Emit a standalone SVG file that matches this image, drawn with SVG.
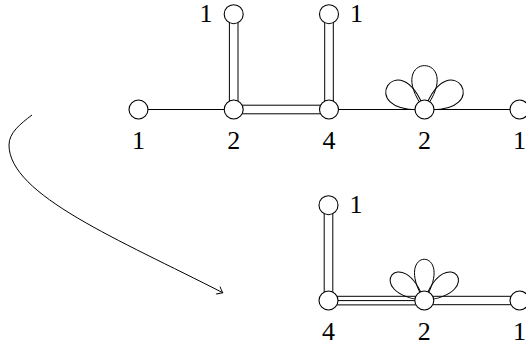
<svg xmlns="http://www.w3.org/2000/svg" xmlns:xlink="http://www.w3.org/1999/xlink" width="526" height="347" viewBox="0 0 526 347">
<style>
.e{stroke:#000;stroke-width:1;fill:none}
.n{fill:#fff;stroke:#000;stroke-width:1.1}
.p{fill:none;stroke:#000;stroke-width:1}
text{font-family:'Liberation Serif','Times New Roman',serif;font-size:26px;text-anchor:middle;fill:#000}
</style>
<defs>
<path id="petA" d="M0,0 C44,-58.5 -44,-58.5 0,0"/>
<path id="petB" d="M0,0 C34,-55 -34,-55 0,0"/>
<marker id="arr" markerUnits="userSpaceOnUse" markerWidth="12" markerHeight="12" refX="0" refY="0" viewBox="-8 -6 10 12" orient="auto">
<path d="M-5,-4 Q-1.5,-1 0,0 Q-1.5,1 -5,4" fill="none" stroke="#000" stroke-width="0.9" stroke-linecap="round"/>
</marker>
</defs>
<g id="connectors">
<line class="e" x1="138.5" y1="109.5" x2="233.7" y2="109.5"/>
<line class="e" x1="233.7" y1="105.2" x2="329" y2="105.2"/>
<line class="e" x1="233.7" y1="113.8" x2="329" y2="113.8"/>
<line class="e" x1="329" y1="109.5" x2="519.5" y2="109.5"/>
<line class="e" x1="229.4" y1="14.2" x2="229.4" y2="109.5"/>
<line class="e" x1="238" y1="14.2" x2="238" y2="109.5"/>
<line class="e" x1="324.7" y1="14.2" x2="324.7" y2="109.5"/>
<line class="e" x1="333.3" y1="14.2" x2="333.3" y2="109.5"/>
<line class="e" x1="324.2" y1="205.2" x2="324.2" y2="300.5"/>
<line class="e" x1="332.8" y1="205.2" x2="332.8" y2="300.5"/>
<line class="e" x1="328.5" y1="296.3" x2="424.3" y2="296.3"/>
<line class="e" x1="328.5" y1="300.6" x2="424.3" y2="300.6"/>
<line class="e" x1="328.5" y1="304.9" x2="424.3" y2="304.9"/>
<line class="e" x1="424.3" y1="296.3" x2="519.5" y2="296.3"/>
<line class="e" x1="424.3" y1="304.7" x2="519.5" y2="304.7"/>
<path class="e" d="M32,115 C20,124 9,133 9,145 C9,195 120,240 222.7,292.7" marker-end="url(#arr)"/>
</g>
<g id="loops-top">
<use xlink:href="#petA" class="p" transform="translate(424.5,109.5)"/>
<use xlink:href="#petA" class="p" transform="translate(424.5,109.5) rotate(-57)"/>
<use xlink:href="#petA" class="p" transform="translate(424.5,109.5) rotate(57)"/>
</g>
<g id="loops-bottom">
<use xlink:href="#petB" class="p" transform="translate(424.3,300.5)"/>
<use xlink:href="#petB" class="p" transform="translate(424.3,300.5) rotate(-52)"/>
<use xlink:href="#petB" class="p" transform="translate(424.3,300.5) rotate(52)"/>
</g>
<g id="t1"><circle class="n" cx="138.5" cy="109.5" r="9.5"/><text x="138.5" y="149">1</text></g>
<g id="t2"><circle class="n" cx="233.7" cy="109.5" r="9.5"/><text x="233.7" y="149">2</text></g>
<g id="t3"><circle class="n" cx="329" cy="109.5" r="9.5"/><text x="329" y="149">4</text></g>
<g id="t4"><circle class="n" cx="424.5" cy="109.5" r="9.5"/><text x="424.5" y="149">2</text></g>
<g id="t5"><circle class="n" cx="519.5" cy="109.5" r="9.5"/><text x="519.5" y="149">1</text></g>
<g id="t6"><circle class="n" cx="233.7" cy="14.2" r="9.5"/><text x="206" y="22">1</text></g>
<g id="t7"><circle class="n" cx="329" cy="14.2" r="9.5"/><text x="356.5" y="22">1</text></g>
<g id="b1"><circle class="n" cx="328.5" cy="205.2" r="9.5"/><text x="356" y="213">1</text></g>
<g id="b2"><circle class="n" cx="328.5" cy="300.5" r="9.5"/><text x="328.5" y="340">4</text></g>
<g id="b3"><circle class="n" cx="424.3" cy="300.5" r="9.5"/><text x="424.3" y="340">2</text></g>
<g id="b4"><circle class="n" cx="519.5" cy="300.5" r="9.5"/><text x="519.5" y="340">1</text></g>
</svg>
